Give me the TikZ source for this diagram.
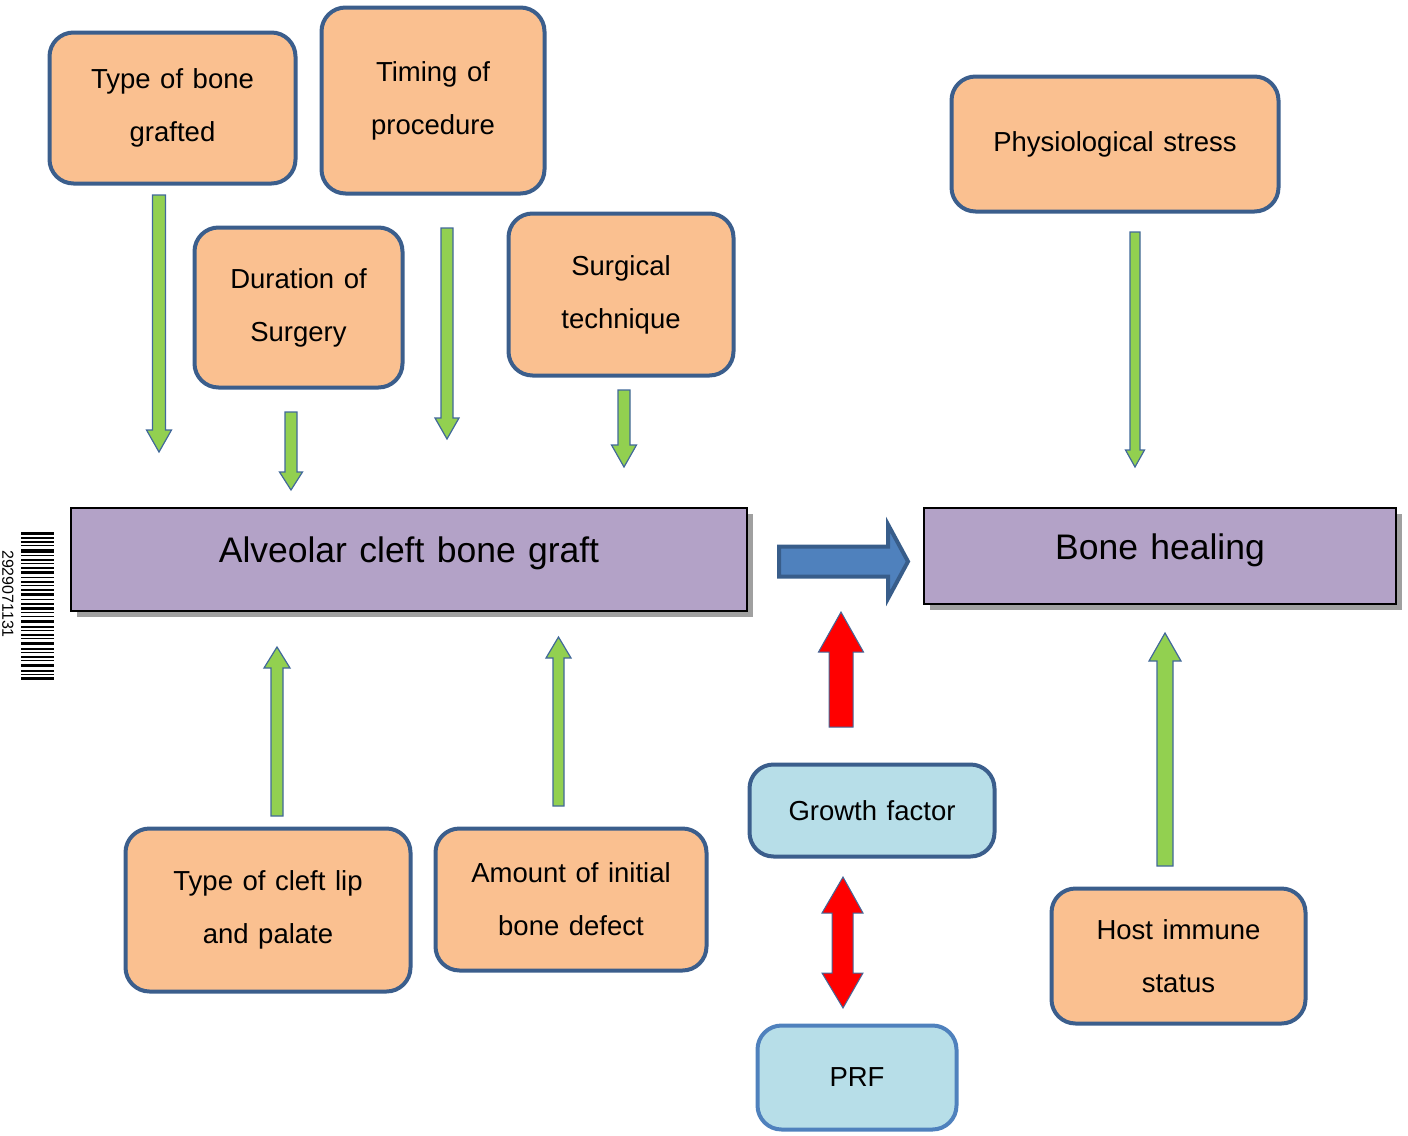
\documentclass[tikz,border=0pt]{standalone}
\usepackage{fontspec}
\setmainfont{Liberation Sans}[WordSpace={1.25,1,1}]
\usetikzlibrary{shadows}
\definecolor{orangefill}{HTML}{FAC090}
\definecolor{boxblue}{HTML}{3B5E8C}
\definecolor{lightblue}{HTML}{B7DEE8}
\definecolor{prfblue}{HTML}{4F81BD}
\definecolor{purplefill}{HTML}{B3A2C7}
\definecolor{greenfill}{HTML}{92D050}
\definecolor{arrowedge}{HTML}{41689A}
\definecolor{bluefill}{HTML}{4F81BD}
\definecolor{blueedge}{HTML}{385D8A}
\definecolor{shadowgrey}{HTML}{A0A0A0}
\newcommand{\varrowpath}[6]{({#1-#5},{#2}) -- ({#1-#5},{#3}) -- ({#1-#6},{#3}) -- ({#1},{#4}) -- ({#1+#6},{#3}) -- ({#1+#5},{#3}) -- ({#1+#5},{#2}) -- cycle}
\begin{document}
\begin{tikzpicture}[x=1pt,y=-1pt,
  obox/.style={draw=boxblue, line width=4pt, fill=orangefill, rounded corners=24pt,
    align=center, inner sep=0pt, font=\fontsize{27.5}{53}\selectfont},
  bbox/.style={obox, fill=lightblue},
  mainbox/.style={draw=black, line width=2pt, fill=purplefill, inner sep=0pt,
    font=\fontsize{35.5}{40}\selectfont, text height=20pt, text depth=14pt,
    drop shadow={shadow xshift=6pt, shadow yshift=-6pt, fill=shadowgrey, opacity=1}},
  garrow/.style={draw=arrowedge, line width=1.2pt, fill=greenfill, line join=miter},
  rarrow/.style={draw=arrowedge, line width=1pt, fill=red, line join=miter},
  barrow/.style={draw=blueedge, line width=4pt, fill=bluefill, line join=miter}]
\useasboundingbox (0,0) rectangle (1408,1135);

% orange factor boxes
\node[obox, minimum width=246pt, minimum height=151pt] (tbone) at (172.5,108) {Type of bone\\grafted};
\node[obox, minimum width=223pt, minimum height=186pt] (timing) at (433,100.5) {Timing of\\procedure};
\node[obox, minimum width=208pt, minimum height=160pt] (duration) at (298.5,307.5) {Duration of\\Surgery};
\node[obox, minimum width=225pt, minimum height=162pt] (surgical) at (621,294.5) {Surgical\\technique};
\node[obox, minimum width=327pt, minimum height=135pt] (phys) at (1115,144) {Physiological stress};
\node[obox, minimum width=285pt, minimum height=163pt] (cleft) at (268,910) {Type of cleft lip\\and palate};
\node[obox, minimum width=271pt, minimum height=142pt] (amount) at (571,899.5) {Amount of initial\\bone defect};
\node[obox, minimum width=254pt, minimum height=135pt] (host) at (1178.5,956) {Host immune\\status};

% blue boxes
\node[bbox, minimum width=245pt, minimum height=92pt] (growth) at (872,810.5) {Growth factor};
\node[bbox, draw=prfblue, minimum width=199pt, minimum height=104pt] (prf) at (857,1077.5) {PRF};

% main boxes
\node[mainbox, minimum width=676pt, minimum height=103pt] (graft) at (409,559.5) {Alveolar cleft bone graft};
\node[mainbox, minimum width=472pt, minimum height=96pt] (healing) at (1160,556) {Bone healing};

% green arrows
\draw[garrow] \varrowpath{159}{195}{430}{452}{6.5}{12.5};
\draw[garrow] \varrowpath{291}{412}{472}{490}{6}{11.5};
\draw[garrow] \varrowpath{447}{228}{418}{439}{6}{12};
\draw[garrow] \varrowpath{624}{390}{445}{467}{6}{12.5};
\draw[garrow] \varrowpath{1135}{232}{450}{467}{5}{9.5};
\draw[garrow] \varrowpath{277}{816}{668}{647}{6}{13};
\draw[garrow] \varrowpath{558.5}{806}{658}{637}{5.5}{12.5};
\draw[garrow] \varrowpath{1165}{866}{661}{633}{8}{16};

% red arrows
\draw[rarrow] \varrowpath{841}{727}{652}{612}{12}{22.5};
\draw[rarrow] (843,877) -- (863,913) -- (853,913) -- (853,973) -- (863,973) -- (843,1008)
  -- (822,973) -- (832,973) -- (832,913) -- (822,913) -- cycle;

% blue arrow
\draw[barrow] (779,546.5) -- (888,546.5) -- (888,524.5) -- (908,561.5) -- (888,598.5)
  -- (888,576.5) -- (779,576.5) -- cycle;

% barcode
\foreach \yy/\tt in {532/3,537/1.5,541/2,545/1,549/3.5,555/1,559/2,563/1,567/1.5,571/3,577/1,581/2,585/1,589/1.5,593/3,599/1,603/1.5,607/2.5,612/1,616/1,620/3,626/1.5,630/1,634/2,638/1,642/3,648/1.5,652/1,656/2,660/1,664/3,670/1.5,674/1,677/3}
  \fill[black] (21,\yy) rectangle (54,{\yy+\tt});
\node[rotate=-90, inner sep=0pt, font=\fontsize{16}{18}\selectfont] (code) at (8,594) {2929071131};
\end{tikzpicture}
\end{document}
